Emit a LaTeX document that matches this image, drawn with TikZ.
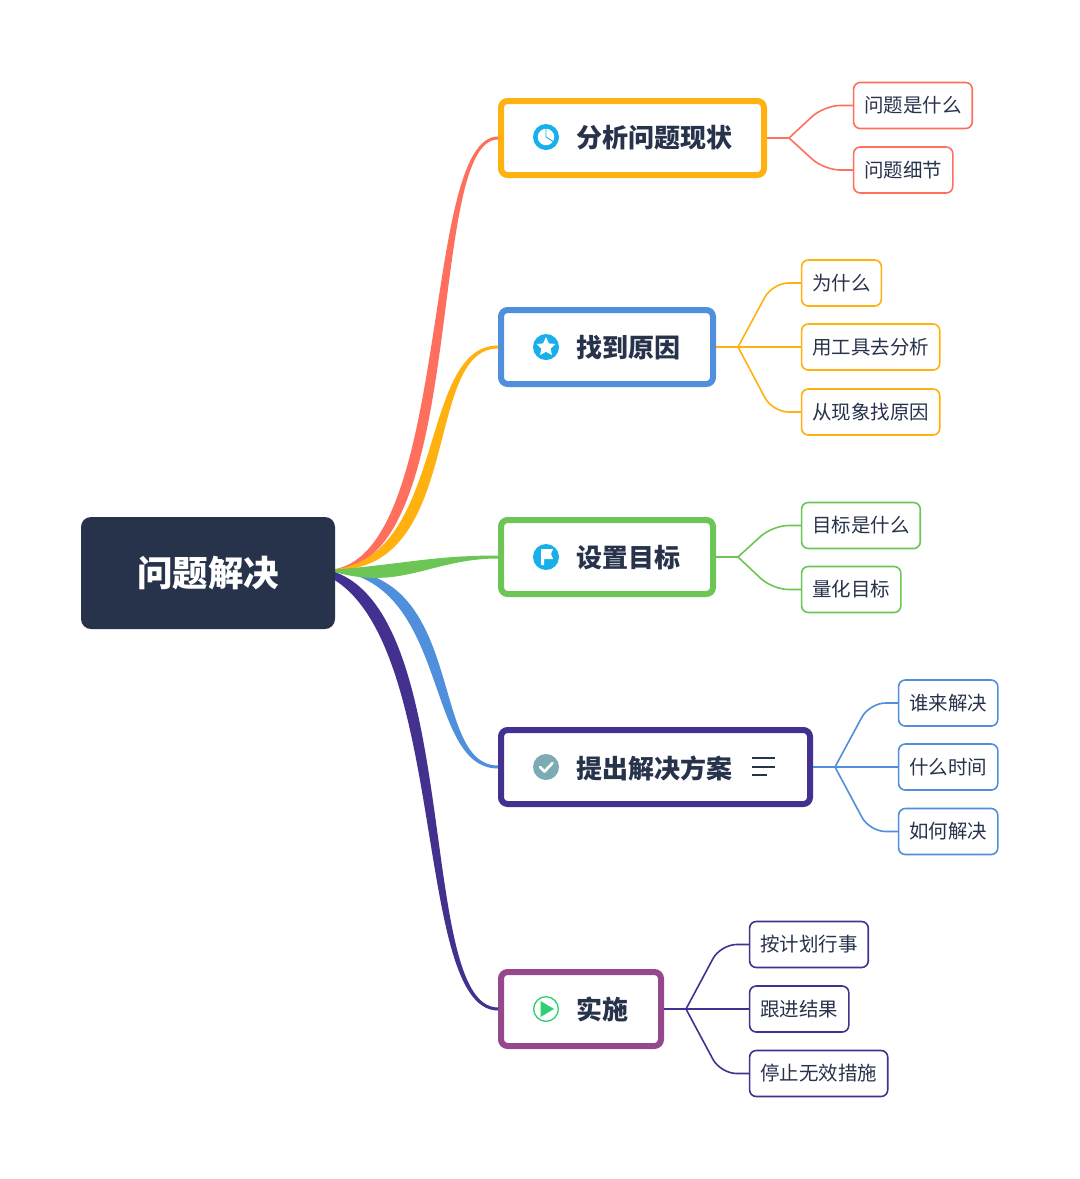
\documentclass[tikz,border=0pt]{standalone}
\usepackage{fontspec}
\setmainfont{Noto Sans CJK SC}
\usetikzlibrary{calc}
\definecolor{inkdark}{HTML}{27324B}
\definecolor{coral}{HTML}{FF6F5E}
\definecolor{amber}{HTML}{FFB20F}
\definecolor{skyblue}{HTML}{4F8FDC}
\definecolor{leafgreen}{HTML}{6CC554}
\definecolor{indigo}{HTML}{44318F}
\definecolor{plum}{HTML}{97478B}
\definecolor{iconblue}{HTML}{17B0EA}
\definecolor{iconteal}{HTML}{7DABB4}
\definecolor{icongreen}{HTML}{2FD071}
\tikzset{
	rootbox/.style={fill=inkdark,text=white,rounded corners=7.5pt,minimum width=190.5pt,minimum height=84pt,font=\fontsize{26.6pt}{30pt}\selectfont\bfseries},
	mainbox/.style={draw=#1,fill=white,line width=4.5pt,rounded corners=5pt,minimum height=55.5pt},
	wide/.style={minimum width=#1*0.75pt},
	maintext/.style={anchor=west,inner sep=0pt,text=inkdark,font=\fontsize{19.5pt}{22pt}\selectfont\bfseries},
	leafbox/.style={draw=#1,fill=white,line width=1.2pt,rounded corners=5pt,anchor=west,inner xsep=8pt,inner ysep=0pt,minimum height=34.5pt,text=inkdark,font=\fontsize{14.6pt}{17pt}\selectfont},
	iconbase/.style={circle,fill=#1,inner sep=0pt,minimum size=19.5pt},
	twig/.style={draw=#1,line width=1.2pt,rounded corners=12pt}
}
% tapered branch: start, colour, target, first control, second control, half width x, half width y
\newcommand{\branch}[7]{
	\fill[#2] (#1) .. controls ($(#1)+(#4)+(-1*#6,-1*#7)$) and ($(#3.west)+(#5)+(-0.25*#6,-1.5)$) .. ($(#3.west)+(0,-1.5)$)
		-- ($(#3.west)+(0,1.5)$) .. controls ($(#3.west)+(#5)+(0.25*#6,1.5)$) and ($(#1)+(#4)+(#6,#7)$) .. (#1) -- cycle;
}
\newcommand{\twigs}[4]{
	\coordinate (#2) at ($(#3.east)+(22,0)$);
	\draw[twig=#1] (#3.east) -- (#2);
	\foreach \leafname in {#4}{
		\coordinate (bend) at ($(#2)!.55!(\leafname.west)$);
		\draw[twig=#1] (#2) -- (bend |- \leafname.west) -- (\leafname.west);
	}
}
\begin{document}
\begin{tikzpicture}[x=0.75pt,y=-0.75pt]
	\useasboundingbox (0,0) rectangle (1080,1179);
	\fill[white] (0,0) rectangle (1080,1179);
	\node[mainbox=amber,wide=263] (analyse) at (632.5,138) {};
	\node[mainbox=skyblue,wide=212] (cause) at (607,347) {};
	\node[mainbox=leafgreen,wide=212] (goal) at (607,557) {};
	\node[mainbox=indigo,wide=309] (plan) at (655.5,767) {};
	\node[mainbox=plum,wide=160] (act) at (581,1009) {};
	\coordinate (hub) at (328,570);
	\coordinate (hublow) at (300,568);
	\branch{hub}{coral}{analyse}{134,0}{-76,0}{9}{7}
	\branch{hub}{amber}{cause}{129,0}{-79,0}{9}{7}
	\branch{hub}{skyblue}{plan}{132,0}{-73,0}{-9}{7}
	\branch{hub}{leafgreen}{goal}{72,9}{-68,0}{0}{14}
	\branch{hublow}{indigo}{act}{163,0}{-90,0}{-8}{16}
	\node[rootbox] (root) at (208,573) {问题解决};
	% main labels
	\node[maintext] (analysetext) at (576,138) {分析问题现状};
	\node[maintext] (causetext) at (576,348) {找到原因};
	\node[maintext] (goaltext) at (576,558) {设置目标};
	\node[maintext] (plantext) at (576,768) {提出解决方案};
	\node[maintext] (acttext) at (576,1009) {实施};
	% icons
	\node[iconbase=iconblue] (pieicon) at (546,137) {};
	\fill[white] (pieicon.center) circle (6.2pt);
	\draw[iconblue,line width=0.7pt] (pieicon.center) -- ++(0,-9) (pieicon.center) -- ++(8,5);
	\node[iconbase=iconblue] (staricon) at (546,347) {};
	\fill[white] (staricon)+(0,-10) -- +(2.9,-3.6) -- +(9.5,-3) -- +(4.7,1.5) -- +(5.9,8) -- +(0,4.8) -- +(-5.9,8) -- +(-4.7,1.5) -- +(-9.5,-3) -- +(-2.9,-3.6) -- cycle;
	\node[iconbase=iconblue] (flagicon) at (546,557) {};
	\fill[white] (flagicon)+(-5,-8) -- +(7,-8) -- +(5,-3) -- +(7,2) -- +(-2,2) -- +(-2,8) -- +(-5,8) -- cycle;
	\node[iconbase=iconteal] (checkicon) at (546,767) {};
	\draw[white,line width=2pt,line cap=round,line join=round] (checkicon)+(-6,0) -- +(-1.5,4.5) -- +(6.5,-4);
	\node[circle,draw=icongreen,fill=white,line width=1pt,inner sep=0pt,minimum size=18.5pt] (playicon) at (546,1009) {};
	\fill[icongreen] (playicon)+(-5.5,-8) -- +(8,0) -- +(-5.5,8) -- cycle;
	\foreach \ypos/\xend in {758/775,767/775,775/767}
		\draw[inkdark,line width=1.2pt] (752,\ypos) -- (\xend,\ypos);
	% leaves
	\node[leafbox=coral] (whatissue) at (852.8,105.5) {问题是什么};
	\node[leafbox=coral] (issuedetail) at (852.8,170) {问题细节};
	\node[leafbox=amber] (why) at (800.8,283) {为什么};
	\node[leafbox=amber] (tools) at (800.8,347) {用工具去分析};
	\node[leafbox=amber] (symptom) at (800.8,412) {从现象找原因};
	\node[leafbox=leafgreen] (whatgoal) at (800.8,525.5) {目标是什么};
	\node[leafbox=leafgreen] (quantify) at (800.8,589.5) {量化目标};
	\node[leafbox=skyblue] (who) at (897.8,703) {谁来解决};
	\node[leafbox=skyblue] (when) at (897.8,767) {什么时间};
	\node[leafbox=skyblue] (how) at (897.8,831.5) {如何解决};
	\node[leafbox=indigo] (follow) at (748.8,944.5) {按计划行事};
	\node[leafbox=indigo] (track) at (748.8,1009) {跟进结果};
	\node[leafbox=indigo] (stop) at (748.8,1073.5) {停止无效措施};
	% connectors
	\twigs{coral}{forkanalyse}{analyse}{whatissue,issuedetail}
	\twigs{amber}{forkcause}{cause}{why,tools,symptom}
	\twigs{leafgreen}{forkgoal}{goal}{whatgoal,quantify}
	\twigs{skyblue}{forkplan}{plan}{who,when,how}
	\twigs{indigo}{forkact}{act}{follow,track,stop}
\end{tikzpicture}
\end{document}
